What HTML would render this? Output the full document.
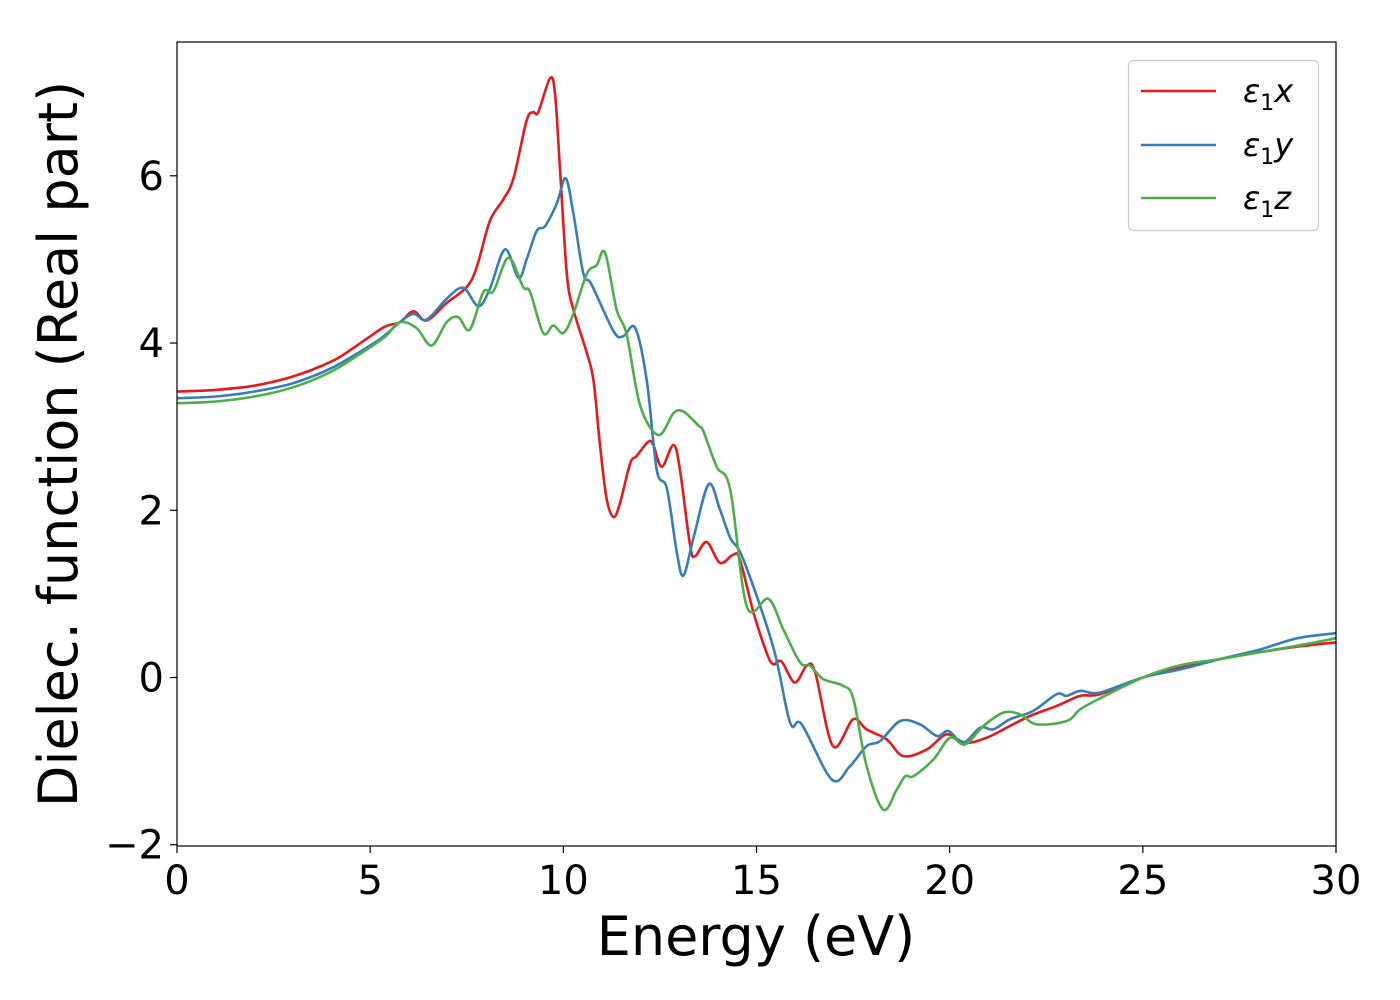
<!DOCTYPE html>
<html><head><meta charset="utf-8"><style>
html,body{margin:0;padding:0;background:#fff;}
svg{display:block;font-family:"DejaVu Sans","Liberation Sans",sans-serif;}
</style></head><body>
<svg id="chart" width="1400" height="1000">
<rect width="1400" height="1000" fill="#fff"/>
<g id="plot"></g>
<g id="axes"></g>
<text x="756" y="955" font-size="54" text-anchor="middle">Energy (eV)</text>
<text transform="translate(77,444) rotate(-90)" font-size="54" text-anchor="middle">Dielec. function (Real part)</text>
<g>
<rect x="1128.5" y="60.5" width="190" height="170" rx="5" fill="#fff" stroke="#ccc" stroke-width="1.2"/>
<g><line x1="1141" y1="91" x2="1216" y2="91" stroke="#e41a1c" stroke-width="2.6"/><text x="1243" y="102" font-size="32" font-style="italic">ε<tspan font-size="22" dy="8" font-style="normal">1</tspan><tspan dy="-8">x</tspan></text></g>
<g><line x1="1141" y1="145" x2="1216" y2="145" stroke="#377eb8" stroke-width="2.6"/><text x="1243" y="156" font-size="32" font-style="italic">ε<tspan font-size="22" dy="8" font-style="normal">1</tspan><tspan dy="-8">y</tspan></text></g>
<g><line x1="1141" y1="198" x2="1216" y2="198" stroke="#4daf4a" stroke-width="2.6"/><text x="1243" y="209" font-size="32" font-style="italic">ε<tspan font-size="22" dy="8" font-style="normal">1</tspan><tspan dy="-8">z</tspan></text></g>
</g>
</svg>
<script>
const xTicks=[0,5,10,15,20,25,30];
const yTicks=[-2,0,2,4,6];
const yTickLabels=["\u22122","0","2","4","6"];
const energyX=[0,1,2,3,4,4.5,5,5.4,5.77,6.12,6.46,6.98,7.50,7.76,8.10,8.45,8.71,9.05,9.22,9.35,9.66,9.79,9.91,10.09,10.26,10.61,10.78,10.95,11.12,11.30,11.47,11.73,11.90,12.20,12.33,12.55,12.85,13.02,13.28,13.41,13.71,14.06,14.40,14.57,14.92,15.26,15.43,15.65,15.99,16.30,16.52,16.98,17.50,17.85,18.37,18.80,19.41,19.92,20.40,20.96,21.56,22.08,22.77,23.38,23.89,25,26,27,28,29,30];
const epsX=[3.42,3.44,3.49,3.6,3.78,3.92,4.08,4.2,4.25,4.38,4.27,4.48,4.67,4.91,5.46,5.72,5.97,6.66,6.76,6.76,7.17,6.96,6.10,4.83,4.40,3.88,3.55,2.78,2.14,1.92,2.09,2.56,2.65,2.82,2.78,2.52,2.78,2.48,1.58,1.45,1.62,1.37,1.47,1.41,0.78,0.30,0.16,0.19,-0.06,0.14,0.06,-0.82,-0.50,-0.62,-0.74,-0.94,-0.86,-0.68,-0.78,-0.72,-0.58,-0.46,-0.34,-0.22,-0.20,0.0,0.12,0.22,0.3,0.37,0.42];
const energyY=[0,1,2,3,4,5,5.4,5.77,6.12,6.46,6.98,7.41,7.80,8.10,8.49,8.84,9.05,9.31,9.53,9.83,10.06,10.26,10.52,10.73,11.30,11.55,11.86,12.16,12.42,12.68,12.94,13.11,13.37,13.76,14.06,14.32,14.66,15.43,15.87,16.17,16.95,17.42,17.85,18.20,18.72,19.23,19.67,19.97,20.35,20.79,21.13,21.56,22.16,22.77,23.03,23.38,23.89,25,26,27,28,29,30];
const epsY=[3.34,3.36,3.42,3.52,3.7,3.97,4.1,4.25,4.35,4.28,4.53,4.66,4.44,4.65,5.12,4.78,5.00,5.34,5.40,5.67,5.97,5.55,4.83,4.70,4.14,4.08,4.18,3.55,2.48,2.26,1.49,1.22,1.67,2.31,2.0,1.67,1.41,0.37,-0.54,-0.56,-1.22,-1.06,-0.82,-0.76,-0.52,-0.56,-0.70,-0.64,-0.78,-0.60,-0.62,-0.50,-0.40,-0.20,-0.22,-0.16,-0.18,0.0,0.1,0.22,0.33,0.47,0.53];
const energyZ=[0,1,2,3,4,5,5.4,5.77,6.2,6.59,6.98,7.28,7.58,7.93,8.19,8.58,8.96,9.14,9.48,9.74,10.00,10.26,10.61,10.86,11.08,11.38,11.64,11.99,12.46,12.85,13.11,13.50,13.62,13.97,14.32,14.75,15.31,15.70,16.13,16.39,16.73,17.25,17.51,17.85,18.28,18.63,18.85,19.06,19.58,20.01,20.40,20.87,21.39,21.82,22.25,23.03,23.38,23.89,25,26,27,28,29,30];
const epsZ=[3.28,3.30,3.36,3.47,3.66,3.95,4.08,4.25,4.18,3.97,4.25,4.31,4.16,4.61,4.62,5.02,4.67,4.61,4.12,4.21,4.12,4.35,4.83,4.93,5.08,4.40,4.10,3.25,2.90,3.16,3.18,3.01,2.95,2.52,2.25,0.85,0.94,0.57,0.18,0.14,-0.02,-0.10,-0.26,-1.06,-1.58,-1.34,-1.18,-1.18,-0.98,-0.72,-0.80,-0.58,-0.42,-0.44,-0.56,-0.52,-0.38,-0.25,0.0,0.15,0.22,0.3,0.38,0.47];

const X0=177,X1=1336,Y0=846,Y1=42;
const xMin=0,xMax=30,yMin=-2.015,yMax=7.6;
function sx(v){return X0+(v-xMin)/(xMax-xMin)*(X1-X0);}
function sy(v){return Y0-(v-yMin)/(yMax-yMin)*(Y0-Y1);}
const NS="http://www.w3.org/2000/svg";
const plot=document.getElementById('plot');
const axes=document.getElementById('axes');
function smoothPath(xs,ys){
  const p=xs.map((x,i)=>[sx(x),sy(ys[i])]);
  let d="M"+p[0][0].toFixed(1)+","+p[0][1].toFixed(1);
  for(let i=0;i<p.length-1;i++){
    const a=p[Math.max(i-1,0)],b=p[i],c=p[i+1],e=p[Math.min(i+2,p.length-1)];
    const c1=[b[0]+(c[0]-a[0])/6,b[1]+(c[1]-a[1])/6];
    const c2=[c[0]-(e[0]-b[0])/6,c[1]-(e[1]-b[1])/6];
    d+="C"+c1[0].toFixed(1)+","+c1[1].toFixed(1)+" "+c2[0].toFixed(1)+","+c2[1].toFixed(1)+" "+c[0].toFixed(1)+","+c[1].toFixed(1);
  }
  return d;
}
function drawSeries(xs,ys,color,name){
  const path=document.createElementNS(NS,'path');
  path.setAttribute('d',smoothPath(xs,ys));
  path.setAttribute('fill','none');
  path.setAttribute('stroke',color);
  path.setAttribute('stroke-width','2.6');
  
  
  plot.appendChild(path);
}
drawSeries(energyX,epsX,'#e41a1c','series-eps1-x');
drawSeries(energyY,epsY,'#377eb8','series-eps1-y');
drawSeries(energyZ,epsZ,'#4daf4a','series-eps1-z');

const frame=document.createElementNS(NS,'rect');
frame.setAttribute('x',X0);frame.setAttribute('y',Y1);
frame.setAttribute('width',X1-X0);frame.setAttribute('height',Y0-Y1);
frame.setAttribute('fill','none');frame.setAttribute('stroke','#000');frame.setAttribute('stroke-width','1.2');


axes.appendChild(frame);

xTicks.forEach(t=>{
  const x=sx(t);
  const l=document.createElementNS(NS,'line');
  l.setAttribute('x1',x);l.setAttribute('x2',x);l.setAttribute('y1',Y0);l.setAttribute('y2',Y0+7);
  l.setAttribute('stroke','#000');l.setAttribute('stroke-width','1.2');
  
  
  axes.appendChild(l);
  const tx=document.createElementNS(NS,'text');
  tx.setAttribute('x',x);tx.setAttribute('y',Y0+48);
  tx.setAttribute('font-size','40');tx.setAttribute('text-anchor','middle');
  tx.textContent=String(t);
  
  
  axes.appendChild(tx);
});
yTicks.forEach((t,i)=>{
  const y=sy(t);
  const l=document.createElementNS(NS,'line');
  l.setAttribute('x1',X0-7);l.setAttribute('x2',X0);l.setAttribute('y1',y);l.setAttribute('y2',y);
  l.setAttribute('stroke','#000');l.setAttribute('stroke-width','1.2');
  
  
  axes.appendChild(l);
  const tx=document.createElementNS(NS,'text');
  tx.setAttribute('x',X0-13);tx.setAttribute('y',y+14);
  tx.setAttribute('font-size','40');tx.setAttribute('text-anchor','end');
  tx.textContent=yTickLabels[i];
  
  
  axes.appendChild(tx);
});
</script>
</body></html>
